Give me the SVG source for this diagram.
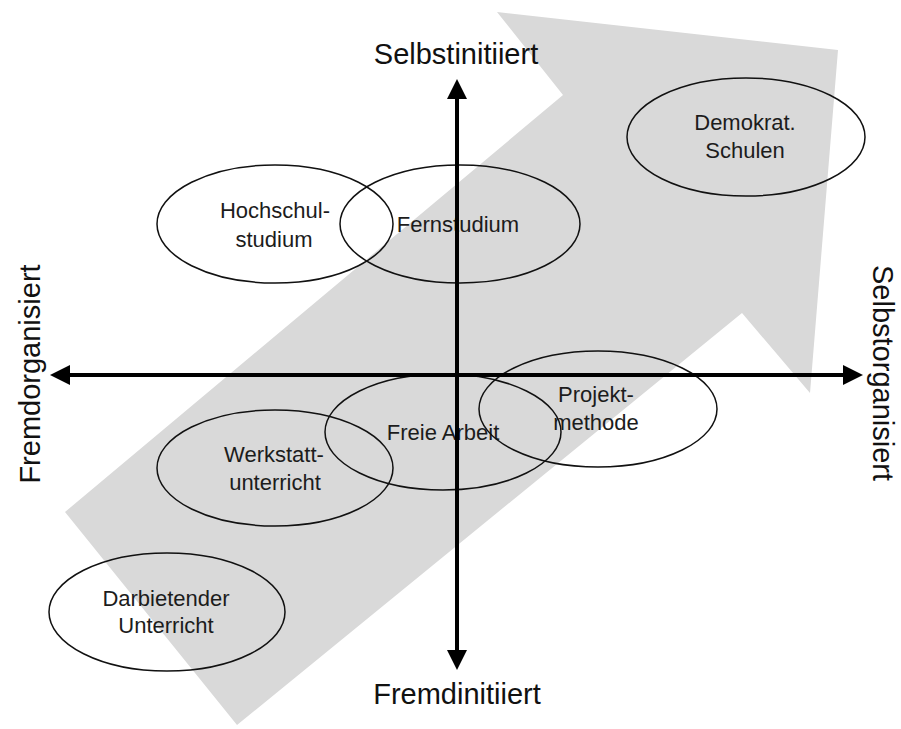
<svg xmlns="http://www.w3.org/2000/svg" width="901" height="729" viewBox="0 0 901 729">
  <style>
    .bg { fill: #ffffff; }
    .big { fill: #d9d9d9; stroke: none; }
    .node ellipse { fill: none; stroke: #111111; stroke-width: 1.5; }
    .node text { font-family: "Liberation Sans", Arial, sans-serif; font-size: 22px; fill: #1c1c1c; text-anchor: middle; }
    .axis { stroke: #000000; stroke-width: 4; fill: none; }
    .axlabel { font-family: "Liberation Sans", Arial, sans-serif; font-size: 29px; fill: #111111; text-anchor: middle; }
  </style>
  <defs>
    <marker id="ah" markerUnits="userSpaceOnUse" markerWidth="20" markerHeight="20" refX="10" refY="10" orient="auto-start-reverse" viewBox="0 0 20 20">
      <path d="M0,0 L20,10 L0,20 Z" fill="#000000"/>
    </marker>
  </defs>
  <rect class="bg" x="0" y="0" width="901" height="729"/>

  <g id="trend-arrow">
    <polygon class="big" points="65,512 563,95 497,12 838,50 810,393 742,313 237,725"/>
  </g>

  <g id="node-hochschulstudium" class="node">
    <ellipse cx="275" cy="224" rx="118" ry="59"/>
    <text x="275" y="218">Hochschul-</text>
    <text x="274" y="247">studium</text>
  </g>
  <g id="node-fernstudium" class="node">
    <ellipse cx="460" cy="224" rx="120" ry="59"/>
    <text x="458" y="232">Fernstudium</text>
  </g>
  <g id="node-demokrat" class="node">
    <ellipse cx="746" cy="137" rx="119" ry="59"/>
    <text x="745" y="130">Demokrat.</text>
    <text x="745" y="158">Schulen</text>
  </g>
  <g id="node-werkstatt" class="node">
    <ellipse cx="275" cy="468" rx="118" ry="58"/>
    <text x="274" y="462">Werkstatt-</text>
    <text x="275" y="490">unterricht</text>
  </g>
  <g id="node-darbietender" class="node">
    <ellipse cx="167" cy="612" rx="118" ry="59"/>
    <text x="166" y="606">Darbietender</text>
    <text x="166" y="633">Unterricht</text>
  </g>
  <g id="node-freie-arbeit" class="node">
    <ellipse cx="443" cy="432" rx="118" ry="58"/>
    <text x="443" y="440">Freie Arbeit</text>
  </g>
  <g id="node-projektmethode" class="node">
    <ellipse cx="598" cy="409" rx="119" ry="58"/>
    <text x="596" y="402">Projekt-</text>
    <text x="596" y="430">methode</text>
  </g>

  <g id="connectors">
    <line class="axis" x1="457" y1="660" x2="457" y2="89" marker-start="url(#ah)" marker-end="url(#ah)"/>
    <line class="axis" x1="60" y1="375" x2="853" y2="375" marker-start="url(#ah)" marker-end="url(#ah)"/>
  </g>

  <g id="axis-labels">
    <text class="axlabel" x="456" y="64">Selbstinitiiert</text>
    <text class="axlabel" x="457" y="704">Fremdinitiiert</text>
    <text class="axlabel" transform="translate(40,374) rotate(-90)">Fremdorganisiert</text>
    <text class="axlabel" transform="translate(873,373) rotate(90)">Selbstorganisiert</text>
  </g>
</svg>
